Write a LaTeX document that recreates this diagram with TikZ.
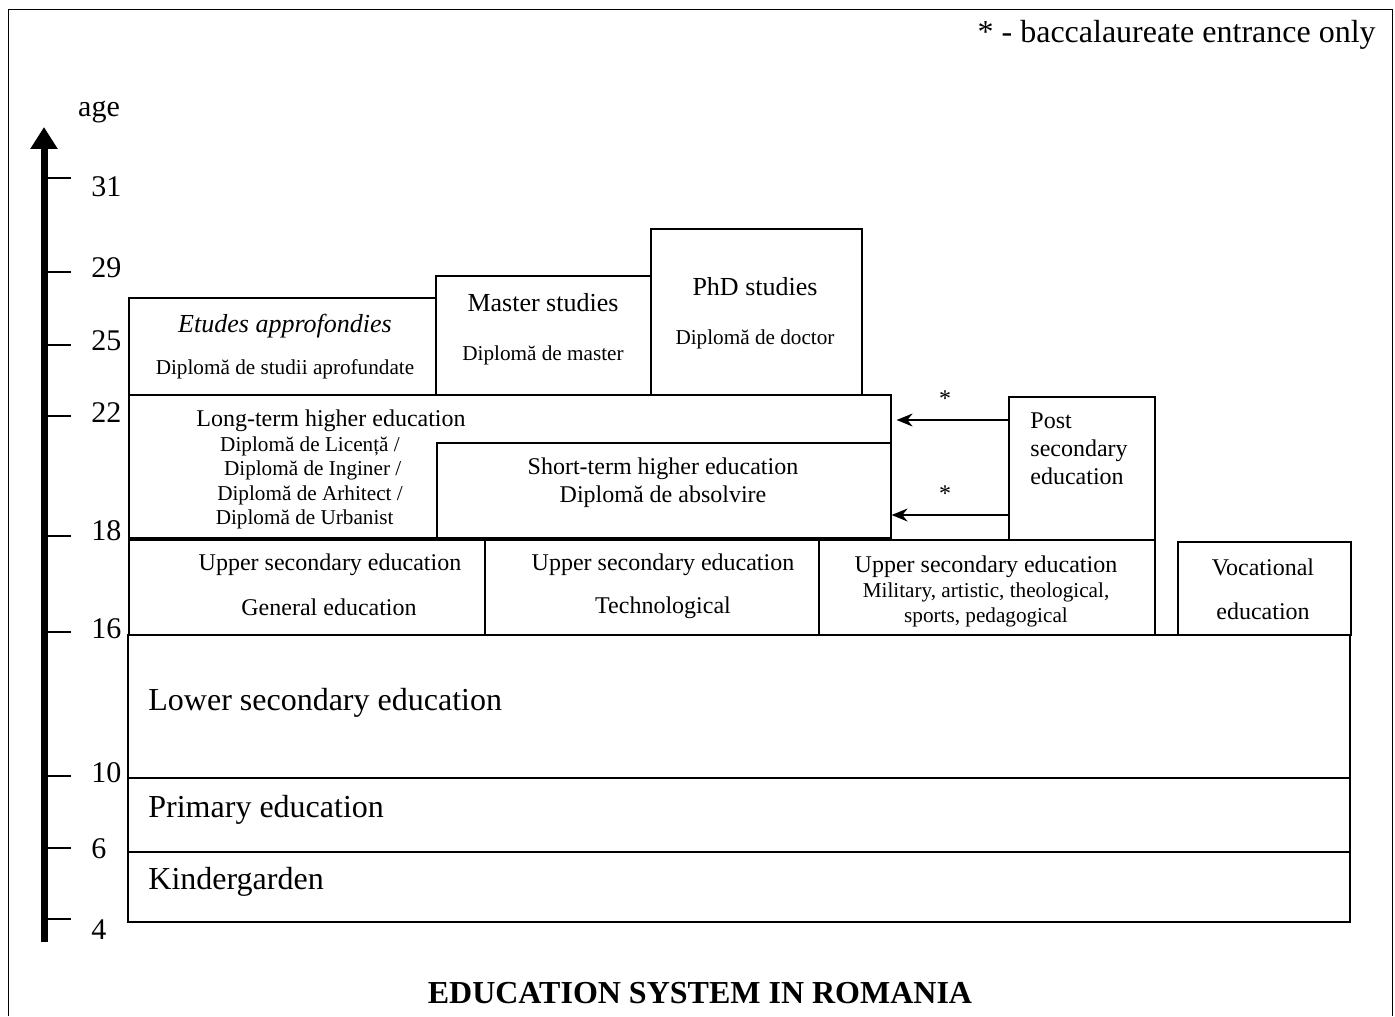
\documentclass[tikz,border=0pt]{standalone}
\usepackage{fontspec}
\setmainfont{Liberation Serif}
\usepackage{tikz}
\usetikzlibrary{positioning,arrows.meta}

\tikzset{
  box/.style 2 args={draw, line width=0.8pt, inner sep=0pt, anchor=north west,
    minimum width=#1*0.5pt, minimum height=#2*0.5pt},
  big/.style={font=\fontsize{16}{19}\selectfont, inner sep=0pt, yshift=-1.5pt},
  head/.style={font=\fontsize{13}{15}\selectfont, inner sep=0pt, yshift=-1pt},
  mid/.style={font=\fontsize{12}{14}\selectfont, inner sep=0pt, yshift=-1pt},
  small/.style={font=\fontsize{10.6}{12.2}\selectfont, inner sep=0pt, yshift=-1pt},
  agelbl/.style={font=\fontsize{15}{17}\selectfont, inner sep=0pt, anchor=west},
  arr/.style={-{Stealth[length=8pt,width=6.5pt]}, line width=0.8pt},
}

\begin{document}
\begin{tikzpicture}[x=0.5pt,y=-0.5pt]
      \useasboundingbox (0,0) rectangle (1395,1016);
      \draw[line width=0.5pt] (8,1016) -- (8,10) -- (1392,10) -- (1392,1016);

      %age axis
      \draw[line width=3.5pt,-{Triangle[length=11pt,width=13pt]}] (44,942) -- (44,127);
      \node[font=\fontsize{15}{17}\selectfont] (age) at (99,112) {age};
      \foreach \yy/\lab/\ly in {178/31/187, 272/29/268, 345/25/341, 416/22/413,
          536/18/531, 632/16/629, 776/10/773, 848/6/849, 919/4/930} {
        \draw[line width=0.6pt] (44,\yy) -- (71,\yy);
        \node[agelbl] (a\lab) at (91,\ly) {\lab};
      }

      %basic levels
      \node[box={1222}{70}] (kinder) at (127,851) {};
      \node[box={1222}{74}] (primary) at (127,777) {};
      \node[box={1222}{143}] (lowersec) at (127,634) {};
      \node[big,anchor=west] (kindertxt) at (148,879) {Kindergarden};
      \node[big,anchor=west] (primarytxt) at (148,807) {Primary education};
      \node[big,anchor=west] (lowertxt) at (148,700) {Lower secondary education};

      %upper secondary
      \node[box={356}{95}] (general) at (128,539) {};
      \node[box={334}{95}] (techno) at (484,539) {};
      \node[box={336}{95}] (military) at (818,539) {};
      \node[box={173}{93}] (vocational) at (1177,541) {};
      \node[mid] (generalA) at (330,563) {Upper secondary education};
      \node[mid] (generalB) at (329,605) {General education};
      \node[mid] (technoA) at (663,563) {Upper secondary education};
      \node[mid] (technoB) at (663,606) {Technological};
      \node[mid] (militaryA) at (986,565) {Upper secondary education};
      \node[small,align=center] (militaryB) at (986,603) {Military, artistic, theological,\\sports, pedagogical};
      \node[mid] (vocA) at (1263,565) {Vocational};
      \node[mid] (vocB) at (1263,609) {education};

      %higher education
      \node[box={762}{143}] (longterm) at (128,394) {};
      \node[box={454}{95}] (shortterm) at (436,442) {};
      \node[mid] (longA) at (331,419) {Long-term higher education};
      \node[small,align=center] (longB) at (310,481) {Diplomă de Licență /\\\ Diplomă de Inginer /\\Diplomă de Arhitect /\\Diplomă de Urbanist\ \ \ };
      \node[mid,align=center] (shortA) at (663,481) {Short-term higher education\\Diplomă de absolvire};

      \node[box={307}{97}] (etudes) at (128,297) {};
      \node[box={215}{119}] (master) at (435,275) {};
      \node[box={211}{166}] (phd) at (650,228) {};
      \node[head,font=\fontsize{13}{15}\selectfont\itshape] (etudesA) at (285,324) {Etudes approfondies};
      \node[small] (etudesB) at (285,367) {Diplomă de studii aprofundate};
      \node[head] (masterA) at (543,301) {Master studies};
      \node[small] (masterB) at (543,353) {Diplomă de master};
      \node[head] (phdA) at (755,285) {PhD studies};
      \node[small] (phdB) at (755,337) {Diplomă de doctor};

      %post secondary
      \node[box={146}{143}] (post) at (1008,396) {};
      \node[mid,align=left,anchor=north west] (postA) at (1030,410) {Post\\secondary\\education};

      \coordinate (lvlA) at (0,420);
      \coordinate (lvlB) at (0,515);
      \draw[arr] (post.west |- lvlA) -- ([xshift=2.5pt]longterm.east |- lvlA);
      \draw[arr] (post.west |- lvlB) -- (shortterm.east |- lvlB);
      \node[mid] (starA) at (945,397) {*};
      \node[mid] (starB) at (945,492) {*};

      \node[big,anchor=east] (legend) at (1376,32) {* - baccalaureate entrance only};
      \node[big,font=\fontsize{16}{19}\selectfont\bfseries] (title) at (700,990) {EDUCATION SYSTEM IN ROMANIA};
\end{tikzpicture}
\end{document}
